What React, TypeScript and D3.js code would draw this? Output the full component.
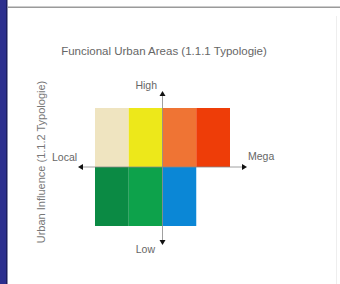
import React from "react"
import * as d3 from "d3"

const columns = ["c1", "c2", "c3", "c4"]
const rows = ["upper", "lower"]
const upperColors = ["#efe4c0", "#ede81a", "#ef7434", "#ee3d08"]
const lowerColors = ["#0b8a44", "#0da24b", "#0b87d6"]
const title = "Funcional Urban Areas (1.1.1 Typologie)"
const yTitle = "Urban Influence (1.1.2 Typologie)"
const axisLabels = { high: "High", low: "Low", local: "Local", mega: "Mega" }

const W = 340
const H = 284

export default function App() {
  const x = d3.scaleBand().domain(columns).range([95, 230])
  const y = d3.scaleBand().domain(rows).range([108, 226])

  const cells = [
    ...upperColors.map((c, i) => ({ col: columns[i], row: "upper", color: c })),
    ...lowerColors.map((c, i) => ({ col: columns[i], row: "lower", color: c })),
  ]

  const cx = x(columns[2]) as number
  const cy = y("lower") as number
  const left = 78
  const right = 247
  const top = 91
  const bottom = 245
  const font = "'Liberation Sans', Arial, sans-serif"
  const a = 3

  return (
    <svg
      width={W}
      height={H}
      style={{ position: "absolute", left: 0, top: 0, background: "#fff" }}
    >
      <rect x={0} y={0} width={6} height={H} fill="#2c2f8e" />
      <rect x={6} y={0} width={1.5} height={H} fill="#1c1e5e" />
      <rect x={8} y={6.5} width={W - 8} height={1.5} fill="#9a9a9a" />
      <line x1={336.5} x2={336.5} y1={16} y2={H} stroke="#eeeeee" />

      <text x={164} y={55} textAnchor="middle" fontFamily={font} fontSize={11.5} fill="#666">
        {title}
      </text>
      <text
        transform={`translate(45,162) rotate(-90)`}
        textAnchor="middle"
        fontFamily={font}
        fontSize={11}
        fill="#777"
      >
        {yTitle}
      </text>

      <g>
        {cells.map((d, i) => (
          <rect
            key={i}
            x={x(d.col)}
            y={y(d.row)}
            width={x.bandwidth()}
            height={y.bandwidth()}
            fill={d.color}
          />
        ))}
      </g>

      <g stroke="#888" strokeWidth={0.8}>
        <line x1={left + 4} x2={right - 4} y1={cy} y2={cy} />
        <line x1={cx} x2={cx} y1={top + 4} y2={bottom - 4} />
      </g>
      <g fill="#111">
        <path d={`M${left},${cy}l${a + 2},${-a}v${2 * a}z`} />
        <path d={`M${right},${cy}l${-a - 2},${-a}v${2 * a}z`} />
        <path d={`M${cx},${top}l${-a},${a + 2}h${2 * a}z`} />
        <path d={`M${cx},${bottom}l${-a},${-a - 2}h${2 * a}z`} />
      </g>

      <g fontFamily={font} fontSize={10.5} fill="#666">
        <text x={157} y={89} textAnchor="end">{axisLabels.high}</text>
        <text x={155} y={253} textAnchor="end">{axisLabels.low}</text>
        <text x={52} y={161}>{axisLabels.local}</text>
        <text x={248} y={160}>{axisLabels.mega}</text>
      </g>
    </svg>
  )
}
